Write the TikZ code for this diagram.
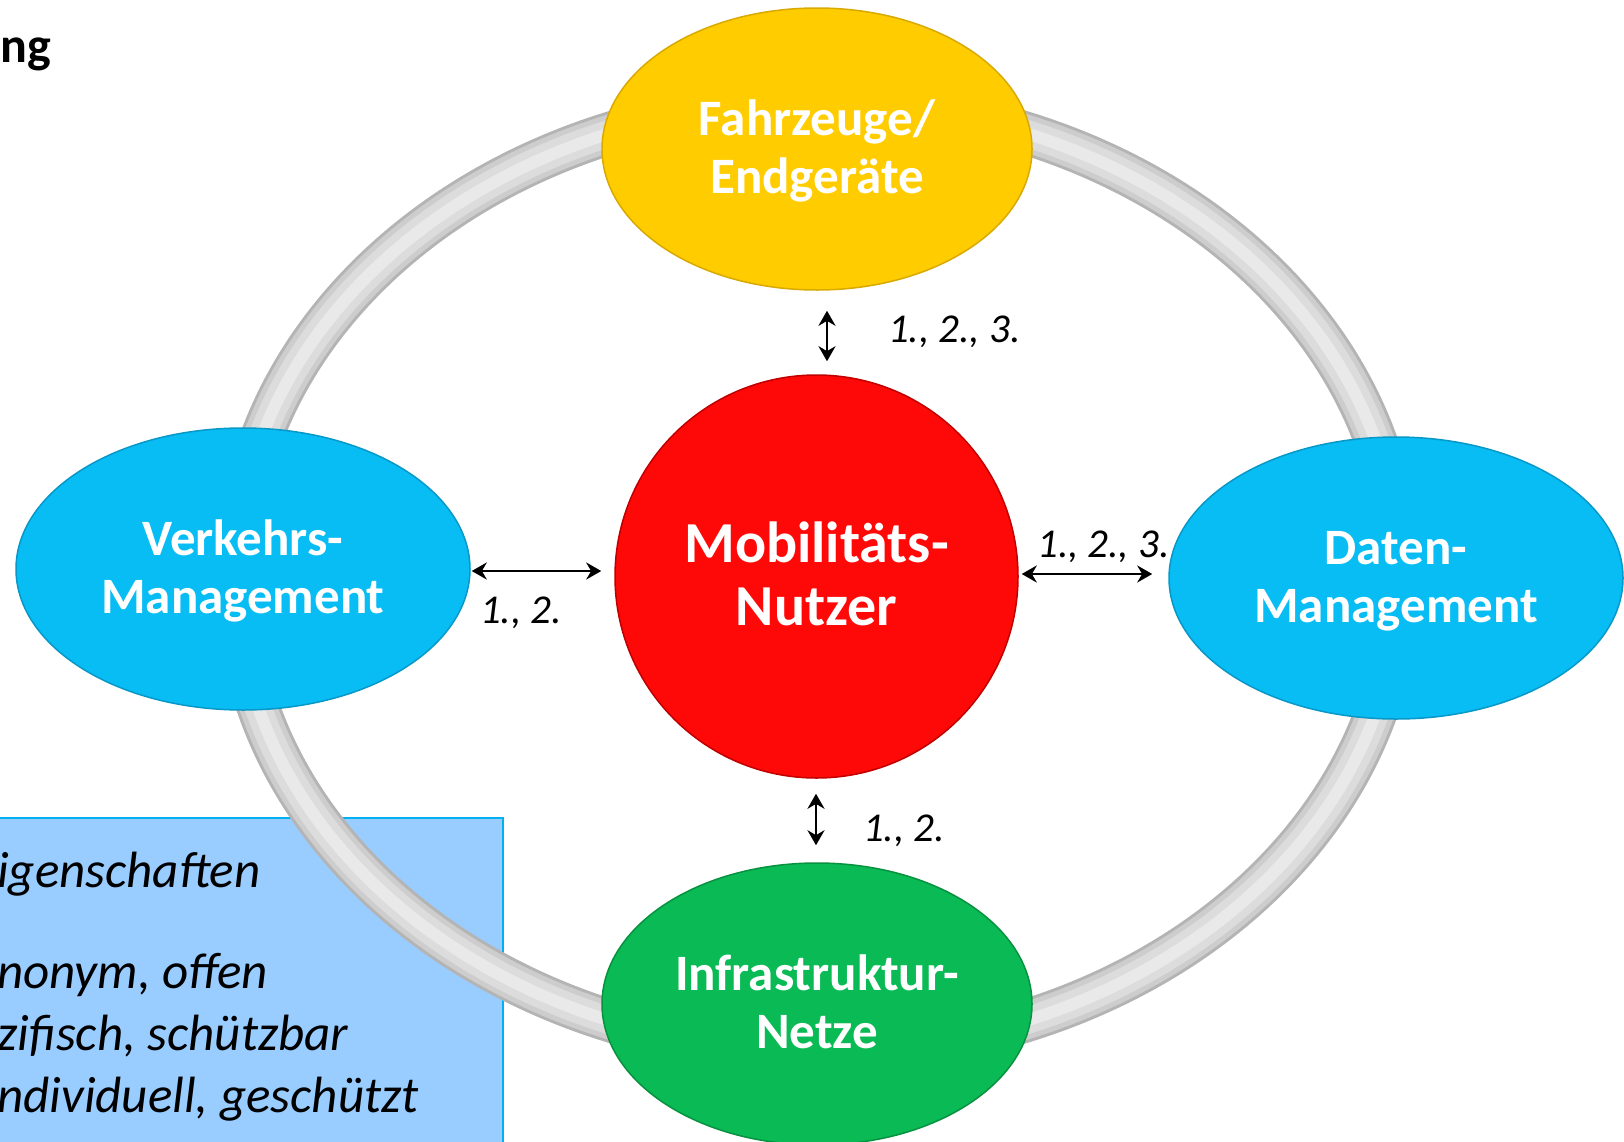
\documentclass[tikz,border=0pt]{standalone}
\usepackage{fontspec}
\setmainfont{Carlito}
\usetikzlibrary{shapes.geometric,arrows.meta}
\definecolor{yellowN}{HTML}{FFCC00}
\definecolor{yellowE}{HTML}{D9A900}
\definecolor{cyanN}{HTML}{08BCF4}
\definecolor{cyanE}{HTML}{0898C8}
\definecolor{greenN}{HTML}{0ABA55}
\definecolor{greenE}{HTML}{07923F}
\definecolor{redN}{HTML}{FF0808}
\definecolor{redE}{HTML}{C00000}
\definecolor{boxfill}{HTML}{99CCFF}
\definecolor{boxline}{HTML}{00B0F0}
\definecolor{ringA}{HTML}{B4B4B4}
\definecolor{ringB}{HTML}{CDCDCD}
\definecolor{ringC}{HTML}{DCDCDC}
\definecolor{ringD}{HTML}{E9E9E9}
\newcommand\mytopstrut[1]{\rule{0pt}{#1pt}}
\newcommand\mybotstrut[1]{\rule[-#1pt]{0pt}{#1pt}}
\begin{document}
\begin{tikzpicture}[x=1pt,y=-1pt,
  blob/.style={ellipse, minimum height=282pt, inner sep=0pt, line width=1.5pt,
    text=white, align=center, font=\bfseries\fontsize{51}{58}\selectfont},
  hub/.style={circle, minimum size=403pt, inner sep=0pt, line width=1.5pt,
    fill=redN, draw=redE, text=white, align=center,
    font=\bfseries\fontsize{58}{63}\selectfont},
  lbl/.style={inner sep=0pt, font=\itshape\fontsize{41}{48}\selectfont},
  boxtxt/.style={inner sep=0pt, anchor=base west, font=\itshape\fontsize{51}{62}\selectfont},
  arr/.style={line width=2.5pt, {Stealth[length=15pt,width=17pt]}-{Stealth[length=15pt,width=17pt]}},
  ring/.style={line width=#1}
]
\useasboundingbox (0,0) rectangle (1624,1141);
\clip (0,0) rectangle (1624,1141);

% top-left fragment
\node[inner sep=0pt, anchor=base west, font=\bfseries\fontsize{50}{60}\selectfont] (ttl) at (0,62) {ng};

% light blue box
\draw[fill=boxfill, draw=boxline, line width=2.5pt] (-10,818) rectangle (503,1160);
\node[boxtxt] (b1) at (-3,887) {igenschaften};
\node[boxtxt] (b2) at (-3,988) {nonym, offen};
\node[boxtxt] (b3) at (-3,1050) {zifisch, schützbar};
\node[boxtxt] (b4) at (-3,1112) {ndividuell, geschützt};

% ring
\draw[ring=43pt, ringA] (818,577) ellipse [x radius=582, y radius=475];
\draw[ring=37pt, ringB] (818,577) ellipse [x radius=582, y radius=475];
\draw[ring=27pt, ringC] (818,577) ellipse [x radius=582, y radius=475];
\draw[ring=12pt, ringD] (818,577) ellipse [x radius=582, y radius=475];

% nodes
\node[blob, minimum width=430pt, fill=yellowN, draw=yellowE] (T) at (817,149)
  {\mytopstrut{40}Fahrzeuge/\\Endgeräte\mybotstrut{10}};
\node[blob, minimum width=454pt, fill=cyanN, draw=cyanE] (L) at (243,569)
  {\mytopstrut{40}Verkehrs-\\Management\mybotstrut{10}};
\node[blob, minimum width=454pt, fill=cyanN, draw=cyanE] (R) at (1396,578)
  {\mytopstrut{40}Daten-\\Management\mybotstrut{10}};
\node[blob, minimum width=430pt, fill=greenN, draw=greenE] (B) at (817,1004)
  {\mytopstrut{40}Infrastruktur-\\Netze\mybotstrut{10}};
\node[hub] (M) at (816.5,576.5)
  {\mytopstrut{44}Mobilitäts-\\Nutzer\mybotstrut{10}};

% connectors
\coordinate (xt) at (827,0);
\coordinate (xb) at (816,0);
\coordinate (yl) at (0,571);
\coordinate (yr) at (0,574);
\draw[arr, shorten <=20pt, shorten >=13pt] (T.south -| xt) -- (M.north -| xt);
\draw[arr, shorten <=15pt, shorten >=17pt] (M.south -| xb) -- (B.north -| xb);
\draw[arr, shorten <=1pt, shorten >=13pt] (L.east |- yl) -- (M.west |- yl);
\draw[arr, shorten <=3pt, shorten >=16pt] (M.east |- yr) -- (R.west |- yr);

% labels
\node[lbl, anchor=base west] (lt) at (888,342) {1., 2., 3.};
\node[lbl, anchor=base west] (ll) at (480,623) {1., 2.};
\node[lbl, anchor=base west] (lr) at (1037,557) {1., 2., 3.};
\node[lbl, anchor=base west] (lb) at (863,841) {1., 2.};
\end{tikzpicture}
\end{document}
